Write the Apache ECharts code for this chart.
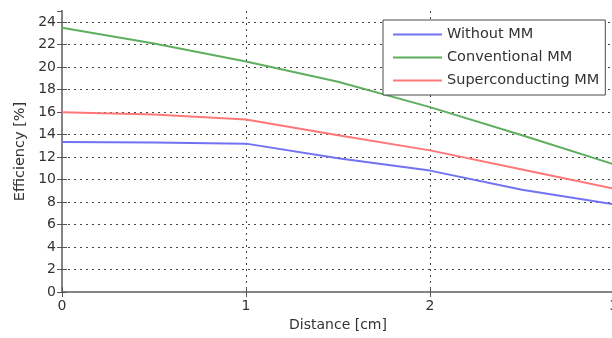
<!DOCTYPE html>
<html>
<head>
<meta charset="utf-8">
<script src="https://cdn.jsdelivr.net/npm/echarts@6/dist/echarts.min.js"></script>
<style>
  html, body { margin: 0; padding: 0; background: #fff; }
  #chart { width: 612px; height: 338px; }
</style>
</head>
<body>
<div id="chart"></div>
<script>
// distance in cm
const distance = [0, 0.5, 1, 1.5, 2, 2.5, 3]
// efficiency in %
const withoutMM = [13.35, 13.3, 13.2, 11.9, 10.8, 9.1, 7.8]
const conventionalMM = [23.5, 22.1, 20.5, 18.7, 16.45, 13.95, 11.35]
const superconductingMM = [16.0, 15.8, 15.35, 13.95, 12.6, 10.9, 9.2]
const seriesNames = ['Without MM', 'Conventional MM', 'Superconducting MM']
const xTicks = [0, 1, 2, 3]

const FONT = 'DejaVu Sans'
const frameColor = '#858585'

function pairs(ys) {
  return distance.map((x, i) => [x, ys[i]])
}

function dotted() {
  return { color: '#444', width: 1, type: [2, 4] }
}

function getOptions() {
  return {
    animation: false,
    backgroundColor: '#fff',
    textStyle: { fontFamily: FONT },
    // the plot is cut off a little on the right, like the original
    grid: { left: 62, right: -2, top: 11, bottom: 46, outerBoundsMode: 'none', containLabel: false },
    legend: {
      orient: 'vertical',
      left: 383,
      top: 20,
      padding: [6, 6, 6, 10],
      icon: 'rect',
      itemWidth: 49,
      itemHeight: 2,
      itemGap: 6,
      backgroundColor: '#fff',
      borderColor: '#4a4a4a',
      borderWidth: 1,
      borderRadius: 0,
      data: seriesNames,
      textStyle: { fontFamily: FONT, fontSize: 14.5, color: '#333', lineHeight: 17 }
    },
    xAxis: [
      {
        type: 'value',
        position: 'bottom',
        min: xTicks[0],
        max: xTicks[xTicks.length - 1],
        interval: 1,
        name: 'Distance [cm]',
        nameLocation: 'middle',
        nameGap: 26,
        nameTextStyle: { fontFamily: FONT, fontSize: 14, color: '#333' },
        axisLine: { lineStyle: { color: frameColor, width: 2 } },
        axisTick: { inside: true, length: 5, lineStyle: { color: '#555' } },
        axisLabel: { fontFamily: FONT, fontSize: 14, color: '#333', margin: 7 },
        splitLine: { show: true, showMinLine: false, showMaxLine: false, lineStyle: dotted() }
      },
      {
        type: 'value',
        position: 'top',
        min: xTicks[0],
        max: xTicks[xTicks.length - 1],
        interval: 1,
        axisLine: { lineStyle: { color: frameColor, width: 2 } },
        axisTick: { inside: true, length: 5, lineStyle: { color: '#555' } },
        axisLabel: { show: false },
        splitLine: { show: false }
      }
    ],
    yAxis: [
      {
        type: 'value',
        position: 'left',
        min: 0,
        max: 25,
        interval: 2,
        name: 'Efficiency [%]',
        nameLocation: 'middle',
        nameGap: 33,
        nameTextStyle: { fontFamily: FONT, fontSize: 14.5, color: '#333' },
        axisLine: { show: true, lineStyle: { color: frameColor, width: 2 } },
        axisTick: { show: true, inside: true, length: 5, lineStyle: { color: '#555' } },
        axisLabel: { fontFamily: FONT, fontSize: 14, color: '#333', margin: 6, showMaxLabel: false },
        splitLine: { show: true, showMinLine: false, showMaxLine: false, lineStyle: dotted() }
      },
      {
        type: 'value',
        position: 'right',
        min: 0,
        max: 25,
        interval: 2,
        axisLine: { show: true, lineStyle: { color: frameColor, width: 2 } },
        axisTick: { show: true, inside: true, length: 5, lineStyle: { color: '#555' } },
        axisLabel: { show: false },
        splitLine: { show: false }
      }
    ],
    series: [
      {
        name: seriesNames[0],
        type: 'line',
        data: pairs(withoutMM),
        symbol: 'none',
        color: '#7272f2',
        lineStyle: { width: 2 }
      },
      {
        name: seriesNames[1],
        type: 'line',
        data: pairs(conventionalMM),
        symbol: 'none',
        color: '#5fae5f',
        lineStyle: { width: 2 }
      },
      {
        name: seriesNames[2],
        type: 'line',
        data: pairs(superconductingMM),
        symbol: 'none',
        color: '#ff7777',
        lineStyle: { width: 2 }
      }
    ]
  }
}

const chart = echarts.init(document.getElementById('chart'))
chart.setOption(getOptions())
</script>
</body>
</html>
